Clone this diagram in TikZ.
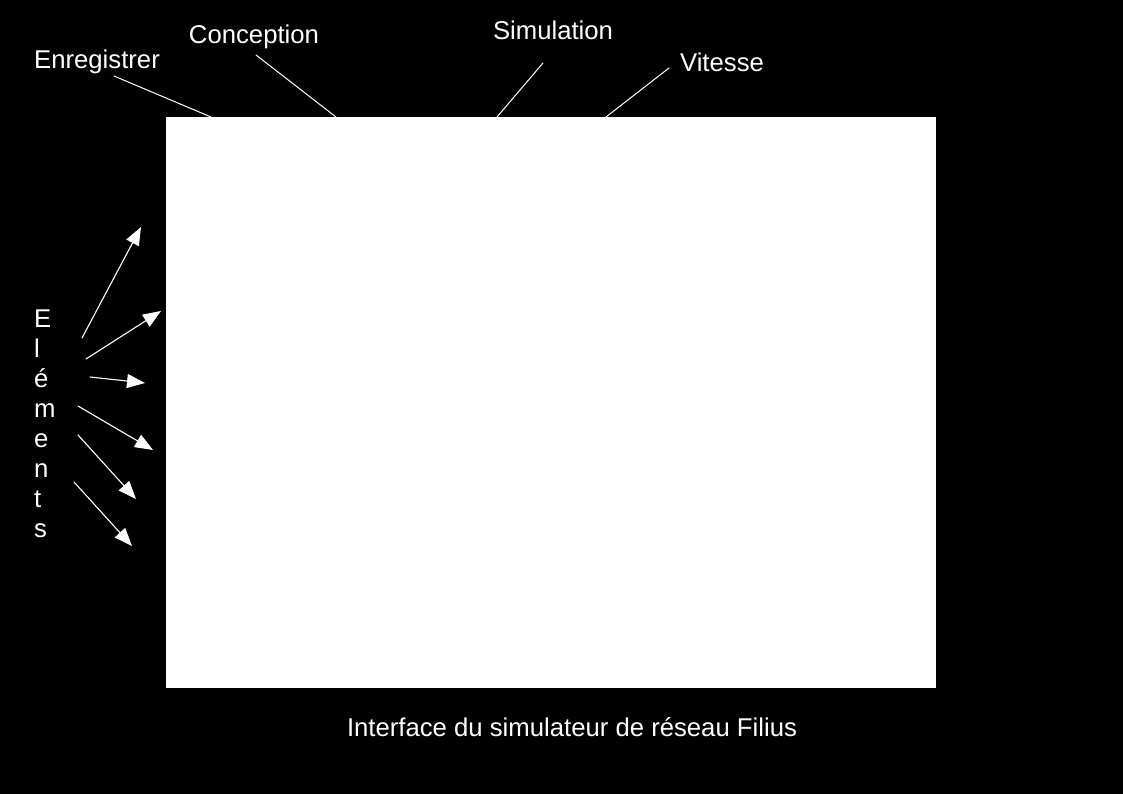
\documentclass[tikz,border=0pt]{standalone}
\usepackage{fontspec}
\setmainfont{Liberation Sans}
\usetikzlibrary{arrows.meta}

\tikzset{
  etiquette/.style={text=white,inner sep=0pt,anchor=base},
  trait/.style={white,line width=1pt},
  fleche/.style={white,line width=1.1pt,->}
}

\begin{document}
\begin{tikzpicture}[x=1pt,y=-1pt,>={Triangle[length=18pt,width=14pt]},font=\fontsize{25.7}{30}\selectfont,line cap=round]
\useasboundingbox (0,0) rectangle (1123,794);
\fill[black] (0,0) rectangle (1123,794);
\node[fill=white,inner sep=0pt,minimum width=770pt,minimum height=571pt,anchor=north west] (ecran) at (166,117) {};
% etiquettes du haut
\node[etiquette] (enregistrer) at (97,68.5) {Enregistrer};
\node[etiquette] (conception) at (254,43.5) {Conception};
\node[etiquette] (simulation) at (553,39.5) {Simulation};
\node[etiquette] (vitesse) at (722,72) {Vitesse};
\node[etiquette] (legende) at (572,736.5) {Interface du simulateur de réseau Filius};
\coordinate (enr-a) at (114,76);
\coordinate (enr-b) at (211,117);
\coordinate (con-a) at (256,55);
\coordinate (con-b) at (336,117);
\coordinate (sim-a) at (543,63);
\coordinate (sim-b) at (497,117);
\coordinate (vit-a) at (669,68);
\coordinate (vit-b) at (606,117);
\draw[trait] (enr-a) -- (enr-b);
\draw[trait] (con-a) -- (con-b);
\draw[trait] (sim-a) -- (sim-b);
\draw[trait] (vit-a) -- (vit-b);
% elements, lettre par lettre
\foreach \l [count=\i from 0] in {E,l,é,m,e,n,t,s}
  \node[etiquette,anchor=base west] (lettre\i) at (34,327+30*\i) {\l};
\coordinate (el1-a) at (82,338);  \coordinate (el1-b) at (141,227);
\coordinate (el2-a) at (86,359);  \coordinate (el2-b) at (161,311);
\coordinate (el3-a) at (90,377);  \coordinate (el3-b) at (145,383);
\coordinate (el4-a) at (78,406);  \coordinate (el4-b) at (153,450);
\coordinate (el5-a) at (78,435);  \coordinate (el5-b) at (136,499);
\coordinate (el6-a) at (74,482);  \coordinate (el6-b) at (132,546);
\foreach \k in {1,...,6}
  \draw[fleche] (el\k-a) -- (el\k-b);
\end{tikzpicture}
\end{document}
